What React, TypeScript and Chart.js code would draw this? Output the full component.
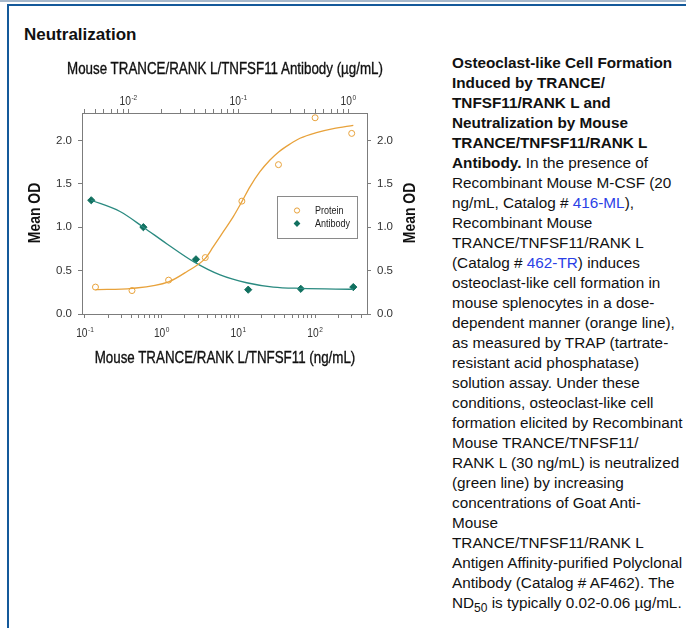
import React, { useEffect, useRef } from "react";
import { Chart, registerables } from "chart.js";

Chart.register(...registerables);

// ---------- data ----------
// Protein (bottom axis, ng/mL) – open orange circles
const proteinDose = [0.137, 0.41, 1.23, 3.7, 11.1, 33.3, 100, 300];
const proteinOD = [0.31, 0.27, 0.39, 0.65, 1.3, 1.72, 2.26, 2.08];
// Antibody (top axis, µg/mL) – filled teal diamonds
const antibodyDose = [0.0046, 0.0137, 0.0412, 0.123, 0.37, 1.11];
const antibodyOD = [1.31, 1.0, 0.63, 0.28, 0.29, 0.31];
// Fitted curves
const proteinFitDose = [0.137, 0.41, 1.23, 2.12, 3.7, 4.71, 6.36, 8.58, 11.1, 14.2, 19.1, 25.8, 33.8, 47.1, 63.5, 104, 173, 315];
const proteinFitOD = [0.28, 0.295, 0.37, 0.487, 0.64, 0.775, 0.948, 1.121, 1.294, 1.467, 1.639, 1.774, 1.87, 1.958, 2.024, 2.089, 2.135, 2.173];
const antibodyFitDose = [0.0046, 0.0084, 0.0137, 0.0223, 0.0395, 0.0683, 0.119, 0.208, 0.37, 1.11];
const antibodyFitOD = [1.31, 1.18, 1.0, 0.81, 0.6, 0.45, 0.36, 0.31, 0.295, 0.285];

// axis ticks / labels
const bottomDecades = [0.1, 1, 10, 100];
const bottomExps = ["-1", "0", "1", "2"];
const topDecades = [0.01, 0.1, 1];
const topExps = ["-2", "-1", "0"];
const yTickLabels = ["0.0", "0.5", "1.0", "1.5", "2.0"];

const ORANGE = "#E8A23B";
const TEAL_LINE = "#2A8A80";
const TEAL_DARK = "#11705F";
const AXIS = "#7c7c7c";
const ARIAL = "'Liberation Sans', Arial, Helvetica, sans-serif";
const NARROW_X = 0.82;

const CW = 440;
const CH = 400;

function logTicks(scale: any) {
  const out: any[] = [];
  for (let e = -4; e <= 4; e++) {
    for (let m = 1; m <= 9; m++) {
      const v = m * Math.pow(10, e);
      if (v >= scale.min && v <= scale.max) out.push({ value: v, major: m === 1 });
    }
  }
  scale.ticks = out;
}

function narrowText(ctx: any, text: string, x: number, y: number, font: string, align: "left" | "center" = "left") {
  ctx.save();
  ctx.font = font;
  const w = ctx.measureText(text).width * NARROW_X;
  ctx.translate(align === "center" ? x - w / 2 : x, y);
  ctx.scale(NARROW_X, 1);
  ctx.textAlign = "left";
  ctx.fillText(text, 0, 0);
  ctx.restore();
  return w;
}

const decadePlugin = {
  id: "decadeLabels",
  afterDraw(chart: any) {
    const ctx = chart.ctx;
    const ca = chart.chartArea;
    const draw = (id: string, vals: number[], exps: string[], base: number) => {
      const sc = chart.scales[id];
      vals.forEach((v, i) => {
        const x = sc.getPixelForValue(v);
        ctx.save();
        ctx.fillStyle = "#333";
        ctx.textBaseline = "alphabetic";
        ctx.font = `12.5px ${ARIAL}`;
        const wb = ctx.measureText("10").width * NARROW_X;
        ctx.font = `8px ${ARIAL}`;
        const we = ctx.measureText(exps[i]).width * NARROW_X;
        const x0 = x - (wb + we + 0.5) / 2;
        narrowText(ctx, "10", x0, base, `12.5px ${ARIAL}`);
        narrowText(ctx, exps[i], x0 + wb + 0.5, base - 5, `8px ${ARIAL}`);
        ctx.restore();
      });
    };
    draw("x2", topDecades, topExps, ca.top - 8.5);
    draw("x", bottomDecades, bottomExps, ca.bottom + 23);
  },
};

const legendPlugin = {
  id: "boxLegend",
  afterDraw(chart: any) {
    const ctx = chart.ctx;
    const ca = chart.chartArea;
    const bx = ca.left + 195.5;
    const by = ca.top + 83.5;
    ctx.save();
    ctx.fillStyle = "#fff";
    ctx.fillRect(bx, by, 80, 42);
    ctx.strokeStyle = "#8a8a8a";
    ctx.lineWidth = 1;
    ctx.strokeRect(bx, by, 80, 42);
    const mx = ca.left + 215;
    ctx.beginPath();
    ctx.arc(mx, ca.top + 97.5, 2.6, 0, Math.PI * 2);
    ctx.strokeStyle = ORANGE;
    ctx.stroke();
    const dy = ca.top + 110.5;
    ctx.beginPath();
    ctx.moveTo(mx, dy - 3.4);
    ctx.lineTo(mx + 3.4, dy);
    ctx.lineTo(mx, dy + 3.4);
    ctx.lineTo(mx - 3.4, dy);
    ctx.closePath();
    ctx.fillStyle = TEAL_DARK;
    ctx.fill();
    ctx.fillStyle = "#222";
    ctx.textBaseline = "middle";
    narrowText(ctx, "Protein", ca.left + 233, ca.top + 97.5, `11px ${ARIAL}`);
    narrowText(ctx, "Antibody", ca.left + 233, ca.top + 110.5, `11px ${ARIAL}`);
    ctx.restore();
  },
};

function pts(xs: number[], ys: number[]) {
  return xs.map((x, i) => ({ x, y: ys[i] }));
}

function xAxis(position: "top" | "bottom", min: number, max: number, h: number) {
  return {
    type: "logarithmic",
    position,
    min,
    max,
    afterBuildTicks: logTicks,
    afterFit: (s: any) => {
      s.height = h;
    },
    ticks: { callback: () => "", autoSkip: false, maxRotation: 0, minRotation: 0 },
    grid: { drawOnChartArea: false, drawTicks: true, tickLength: 4, color: AXIS },
    border: { display: true, color: AXIS, width: 1 },
  };
}

function yAxis(position: "left" | "right", w: number) {
  return {
    type: "linear",
    position,
    min: 0,
    max: 2.315,
    afterFit: (s: any) => {
      s.width = w;
    },
    ticks: {
      stepSize: 0.5,
      includeBounds: false,
      padding: 6,
      color: "#333",
      font: { family: ARIAL, size: 11.5 },
      callback: (v: any) => yTickLabels[Math.round(Number(v) / 0.5)] ?? "",
    },
    grid: { drawOnChartArea: false, drawTicks: true, tickLength: 4, color: AXIS },
    border: { display: true, color: AXIS, width: 1 },
  };
}

const textLines: React.ReactNode[] = [
  <b>Osteoclast-like Cell Formation</b>,
  <b>Induced by TRANCE/</b>,
  <b>TNFSF11/RANK L and</b>,
  <b>Neutralization by Mouse</b>,
  <b>TRANCE/TNFSF11/RANK L</b>,
  <>
    <b>Antibody.</b> In the presence of
  </>,
  <>Recombinant Mouse M-CSF (20</>,
  <>
    ng/mL, Catalog # <span style={{ color: "#2b3fe6" }}>416-ML</span>),
  </>,
  <>Recombinant Mouse</>,
  <>TRANCE/TNFSF11/RANK L</>,
  <>
    (Catalog # <span style={{ color: "#2b3fe6" }}>462-TR</span>) induces
  </>,
  <>osteoclast-like cell formation in</>,
  <>mouse splenocytes in a dose-</>,
  <>dependent manner (orange line),</>,
  <>as measured by TRAP (tartrate-</>,
  <>resistant acid phosphatase)</>,
  <>solution assay. Under these</>,
  <>conditions, osteoclast-like cell</>,
  <>formation elicited by Recombinant</>,
  <>Mouse TRANCE/TNFSF11/</>,
  <>RANK L (30 ng/mL) is neutralized</>,
  <>(green line) by increasing</>,
  <>concentrations of Goat Anti-</>,
  <>Mouse</>,
  <>TRANCE/TNFSF11/RANK L</>,
  <>Antigen Affinity-purified Polyclonal</>,
  <>Antibody (Catalog # AF462). The</>,
  <>
    ND<span style={{ fontSize: 12, position: "relative", top: 4 }}>50</span> is typically 0.02-0.06 µg/mL.
  </>,
];

export default function App() {
  const ref = useRef<HTMLCanvasElement>(null);

  useEffect(() => {
    const chart = new Chart(ref.current as HTMLCanvasElement, {
      type: "scatter",
      data: {
        datasets: [
          {
            label: "Protein fit",
            data: pts(proteinFitDose, proteinFitOD),
            xAxisID: "x",
            yAxisID: "y",
            showLine: true,
            borderColor: ORANGE,
            borderWidth: 1.3,
            pointRadius: 0,
            cubicInterpolationMode: "monotone",
            fill: false,
          },
          {
            label: "Antibody fit",
            data: pts(antibodyFitDose, antibodyFitOD),
            xAxisID: "x2",
            yAxisID: "y",
            showLine: true,
            borderColor: TEAL_LINE,
            borderWidth: 1.3,
            pointRadius: 0,
            cubicInterpolationMode: "monotone",
            fill: false,
          },
          {
            label: "Protein",
            data: pts(proteinDose, proteinOD),
            xAxisID: "x",
            yAxisID: "y",
            showLine: false,
            pointStyle: "circle",
            pointRadius: 3,
            borderWidth: 1,
            borderColor: ORANGE,
            backgroundColor: "rgba(255,255,255,0)",
          },
          {
            label: "Antibody",
            data: pts(antibodyDose, antibodyOD),
            xAxisID: "x2",
            yAxisID: "y",
            showLine: false,
            pointStyle: "rectRot",
            pointRadius: 3.6,
            borderWidth: 1,
            borderColor: TEAL_DARK,
            backgroundColor: TEAL_DARK,
          },
        ],
      } as any,
      options: {
        animation: false,
        responsive: false,
        devicePixelRatio: 1,
        events: [],
        layout: { padding: 0 },
        plugins: { legend: { display: false }, tooltip: { enabled: false }, title: { display: false } },
        scales: {
          x: xAxis("bottom", 0.0914, 475, 86),
          x2: xAxis("top", 0.00379, 1.479, 113),
          y: yAxis("left", 82),
          y2: yAxis("right", 73),
        } as any,
      },
      plugins: [decadePlugin, legendPlugin],
    });
    return () => chart.destroy();
  }, []);

  const abs = (o: React.CSSProperties): React.CSSProperties => ({ position: "absolute", whiteSpace: "nowrap", ...o });
  const narrow: React.CSSProperties = {
    fontFamily: ARIAL,
    color: "#111",
    lineHeight: "20px",
    textAlign: "center",
    width: 420,
    WebkitTextStroke: "0.35px #111",
  };

  return (
    <div style={{ position: "absolute", left: 0, top: 0, width: 686, height: 628, background: "#fff", overflow: "hidden" }}>
      <div style={abs({ left: 0, top: 0, width: 686, height: 2, background: "#a6b8cb" })} />
      <div style={abs({ left: 7, top: 4, width: 679, height: 2, background: "#14599a" })} />
      <div style={abs({ left: 7, top: 4, width: 2, height: 624, background: "#14599a" })} />

      <div style={abs({ left: 24, top: 25, fontFamily: ARIAL, fontWeight: "bold", fontSize: 17, lineHeight: "20px", color: "#111" })}>
        Neutralization
      </div>

      <canvas ref={ref} width={CW} height={CH} style={abs({ left: 0, top: 0, width: CW, height: CH })} />

      <div style={abs({ ...narrow, left: 225 - 210, top: 58, fontSize: 16.3, transform: `scaleX(${NARROW_X})` })}>
        Mouse TRANCE/RANK L/TNFSF11 Antibody (µg/mL)
      </div>
      <div style={abs({ ...narrow, left: 224.5 - 210, top: 347, fontSize: 16.3, transform: `scaleX(${NARROW_X})` })}>
        Mouse TRANCE/RANK L/TNFSF11 (ng/mL)
      </div>
      <div
        style={abs({
          ...narrow,
          width: 100,
          left: 35 - 50,
          top: 213 - 10,
          fontWeight: "bold",
          fontSize: 17,
          WebkitTextStroke: "0px",
          transform: `rotate(-90deg) scaleX(${NARROW_X})`,
        })}
      >
        Mean OD
      </div>
      <div
        style={abs({
          ...narrow,
          width: 100,
          left: 410 - 50,
          top: 213 - 10,
          fontWeight: "bold",
          fontSize: 17,
          WebkitTextStroke: "0px",
          transform: `rotate(-90deg) scaleX(${NARROW_X})`,
        })}
      >
        Mean OD
      </div>

      <div style={abs({ left: 452, top: 53, fontFamily: ARIAL, fontSize: 15.3, lineHeight: "20px", color: "#111" })}>
        {textLines.map((l, i) => (
          <div key={i} style={{ height: 20, whiteSpace: "nowrap" }}>
            {l}
          </div>
        ))}
      </div>
    </div>
  );
}
